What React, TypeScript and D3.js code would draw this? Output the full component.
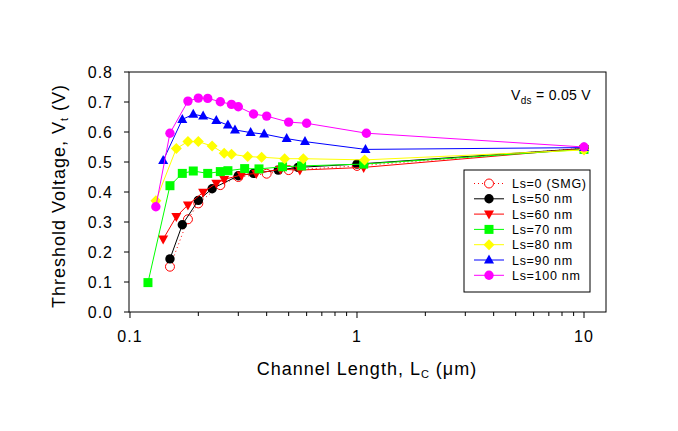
import React from 'react';
import * as d3 from 'd3';

// channel length (um) and threshold voltage (V) per spacer length
const smgL = [0.15, 0.18, 0.2, 0.25, 0.3, 0.4, 0.5, 1.0, 10];
const smgV = [0.151, 0.309, 0.362, 0.423, 0.45, 0.461, 0.473, 0.487, 0.546];

const ls50L = [0.15, 0.17, 0.2, 0.23, 0.3, 0.35, 0.45, 0.55, 1.0, 10];
const ls50V = [0.177, 0.291, 0.372, 0.411, 0.454, 0.462, 0.473, 0.482, 0.493, 0.545];

const ls60L = [0.14, 0.16, 0.18, 0.21, 0.24, 0.26, 0.31, 0.36, 0.46, 0.56, 1.07, 10];
const ls60V = [0.243, 0.318, 0.357, 0.399, 0.429, 0.442, 0.457, 0.462, 0.476, 0.473, 0.482, 0.545];

const ls70L = [0.12, 0.15, 0.17, 0.19, 0.22, 0.25, 0.27, 0.32, 0.37, 0.47, 0.57, 1.07, 10];
const ls70V = [0.098, 0.421, 0.462, 0.47, 0.462, 0.468, 0.471, 0.478, 0.477, 0.484, 0.487, 0.493, 0.542];

const ls80L = [0.13, 0.16, 0.18, 0.2, 0.23, 0.26, 0.28, 0.33, 0.38, 0.48, 0.58, 1.08, 10];
const ls80V = [0.371, 0.545, 0.568, 0.568, 0.553, 0.529, 0.526, 0.518, 0.516, 0.511, 0.511, 0.507, 0.54];

const ls90L = [0.14, 0.17, 0.19, 0.21, 0.24, 0.27, 0.29, 0.34, 0.39, 0.49, 0.59, 1.09, 10];
const ls90V = [0.505, 0.642, 0.659, 0.653, 0.638, 0.623, 0.607, 0.598, 0.593, 0.578, 0.568, 0.542, 0.548];

const ls100L = [0.13, 0.15, 0.18, 0.2, 0.22, 0.25, 0.28, 0.3, 0.35, 0.4, 0.5, 0.6, 1.1, 10];
const ls100V = [0.351, 0.596, 0.703, 0.713, 0.712, 0.701, 0.692, 0.684, 0.66, 0.653, 0.633, 0.629, 0.596, 0.55];

const yTicks = [0, 0.1, 0.2, 0.3, 0.4, 0.5, 0.6, 0.7, 0.8];
const xMajor = [0.1, 1, 10];
const xMinor = [0.2, 0.3, 0.4, 0.5, 0.6, 0.7, 0.8, 0.9, 2, 3, 4, 5, 6, 7, 8, 9];

type Shape = 'openCircle' | 'circle' | 'triDown' | 'square' | 'diamond' | 'triUp';

type Series = { label: string; L: number[]; V: number[]; color: string; shape: Shape; dotted?: boolean };

const series: Series[] = [
  { label: 'Ls=0 (SMG)', L: smgL, V: smgV, color: '#ff0000', shape: 'openCircle', dotted: true },
  { label: 'Ls=50 nm', L: ls50L, V: ls50V, color: '#000000', shape: 'circle' },
  { label: 'Ls=60 nm', L: ls60L, V: ls60V, color: '#ff0000', shape: 'triDown' },
  { label: 'Ls=70 nm', L: ls70L, V: ls70V, color: '#00ff00', shape: 'square' },
  { label: 'Ls=80 nm', L: ls80L, V: ls80V, color: '#ffff00', shape: 'diamond' },
  { label: 'Ls=90 nm', L: ls90L, V: ls90V, color: '#0000ff', shape: 'triUp' },
  { label: 'Ls=100 nm', L: ls100L, V: ls100V, color: '#ff00ff', shape: 'circle' },
];

const FONT = '"Liberation Sans", Arial, sans-serif';

const left = 129, right = 606, top = 72, bottom = 312;

const x = d3.scaleLog().domain([0.099, 12.5]).range([left, right]);
const y = d3.scaleLinear().domain([0, 0.8]).range([bottom, top]);

function Marker({ shape, color, cx, cy }: { shape: Shape; color: string; cx: number; cy: number }) {
  switch (shape) {
    case 'openCircle':
      return <circle cx={cx} cy={cy} r={4.5} fill="#fff" stroke={color} strokeWidth={1} />;
    case 'circle':
      return <circle cx={cx} cy={cy} r={4.7} fill={color} />;
    case 'square':
      return <rect x={cx - 4.5} y={cy - 4.5} width={9} height={9} fill={color} />;
    case 'diamond':
      return <path d={`M${cx},${cy - 5.5}L${cx + 5.5},${cy}L${cx},${cy + 5.5}L${cx - 5.5},${cy}Z`} fill={color} />;
    case 'triUp':
      return <path d={`M${cx},${cy - 5.5}L${cx + 5},${cy + 3.5}L${cx - 5},${cy + 3.5}Z`} fill={color} />;
    case 'triDown':
      return <path d={`M${cx},${cy + 5.5}L${cx + 5},${cy - 3.5}L${cx - 5},${cy - 3.5}Z`} fill={color} />;
  }
  return null;
}

export default function App() {
  const line = d3.line<[number, number]>().x(d => x(d[0])).y(d => y(d[1]));

  return (
    <svg width={678} height={431} style={{ position: 'absolute', left: 0, top: 0, background: '#fff' }}
      fontFamily={FONT}>
      {/* frame */}
      <rect x={left} y={top} width={right - left} height={bottom - top} fill="none" stroke="#000" strokeWidth={1} />

      {/* y axis */}
      {yTicks.map(t => (
        <g key={t}>
          <line x1={left - 5} x2={left} y1={y(t)} y2={y(t)} stroke="#000" />
          <text x={113} y={y(t) + 5.5} textAnchor="end" fontSize={16} letterSpacing={1}>{t.toFixed(1)}</text>
        </g>
      ))}

      {/* x axis */}
      {xMajor.map(t => (
        <g key={t}>
          <line x1={x(t)} x2={x(t)} y1={bottom} y2={bottom + 6} stroke="#000" />
          <text x={x(t)} y={342} textAnchor="middle" fontSize={16} letterSpacing={1}>{d3.format('~g')(t)}</text>
        </g>
      ))}
      {xMinor.map(t => (
        <line key={t} x1={x(t)} x2={x(t)} y1={bottom} y2={bottom + 4} stroke="#000" />
      ))}

      {/* axis titles */}
      <text x={367} y={375} textAnchor="middle" fontSize={18} letterSpacing={1}>
        Channel Length, L<tspan fontSize={11} dy={3}>C</tspan><tspan dy={-3}> (μm)</tspan>
      </text>
      <text transform="translate(65,196) rotate(-90)" textAnchor="middle" fontSize={18} letterSpacing={1}>
        Threshold Voltage, V<tspan fontSize={11} dy={3}>t</tspan><tspan dy={-3}> (V)</tspan>
      </text>

      {/* series */}
      {series.map(s => {
        const pts = s.L.map((l, i) => [l, s.V[i]] as [number, number]);
        return (
          <g key={s.label}>
            <path d={line(pts) ?? ''} fill="none" stroke={s.color} strokeWidth={1}
              strokeDasharray={s.dotted ? '1,3' : undefined} />
            {pts.map((p, i) => (
              <Marker key={i} shape={s.shape} color={s.color} cx={x(p[0])} cy={y(p[1])} />
            ))}
          </g>
        );
      })}

      {/* annotation */}
      <text x={511} y={100} fontSize={14} letterSpacing={0.3}>
        V<tspan fontSize={10} dy={4}>ds</tspan><tspan dy={-4}> = 0.05 V</tspan>
      </text>

      {/* legend */}
      <rect x={464} y={170} width={126} height={122} fill="#fff" stroke="#000" strokeWidth={1} />
      {series.map((s, i) => {
        const ly = 183.5 + i * 15.3;
        return (
          <g key={s.label}>
            <line x1={474} x2={504} y1={ly} y2={ly} stroke={s.color} strokeWidth={1}
              strokeDasharray={s.dotted ? '1,3' : undefined} />
            <Marker shape={s.shape} color={s.color} cx={489} cy={ly} />
            <text x={512} y={ly + 4.5} fontSize={12.5} letterSpacing={0.7}>{s.label}</text>
          </g>
        );
      })}
    </svg>
  );
}
